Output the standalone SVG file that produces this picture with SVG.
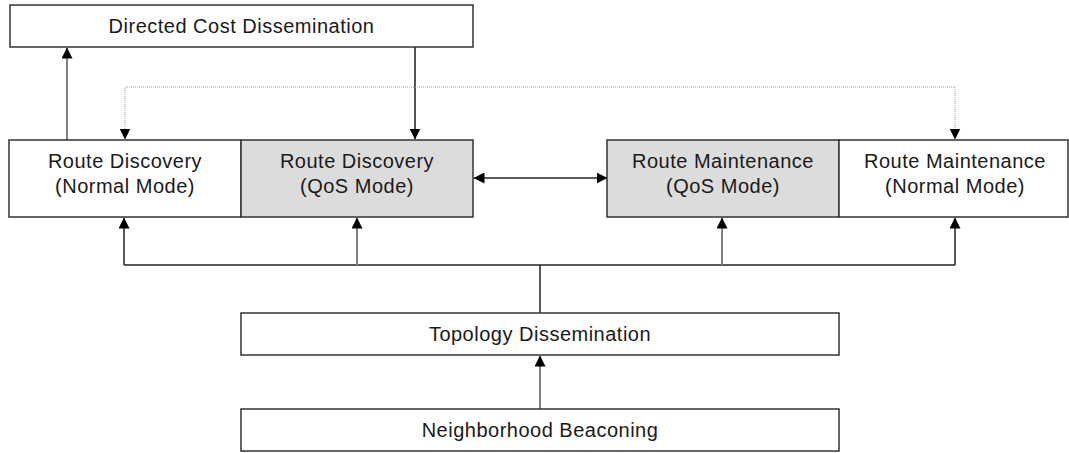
<svg xmlns="http://www.w3.org/2000/svg" width="1069" height="453" viewBox="0 0 1069 453">
  <style>
    .box { fill: #ffffff; stroke: #333333; stroke-width: 1.5; }
    .qos { fill: #dcdcdc; stroke: #333333; stroke-width: 1.5; }
    .lbl { font-family: "Liberation Sans", Arial, sans-serif; font-size: 20px; fill: #1a1a1a; text-anchor: middle; letter-spacing: 0.5px; }
    .dark { fill: none; stroke: #222222; stroke-width: 1.5; }
    .grey { fill: none; stroke: #808080; stroke-width: 2; }
    .dots { fill: none; stroke: #9a9a9a; stroke-width: 1; stroke-dasharray: 1 1; }
  </style>
  <defs>
    <marker id="head" markerUnits="userSpaceOnUse" viewBox="0 0 11 11" refX="10.5" refY="5.5" markerWidth="11" markerHeight="11" orient="auto-start-reverse">
      <path d="M0,0 L11,5.5 L0,11 Z" fill="#000000"/>
    </marker>
  </defs>

  <rect width="1069" height="453" fill="#ffffff"/>

  <!-- connectors -->
  <g id="connectors">
    <!-- normal-mode discovery feeds directed cost dissemination -->
    <path class="grey" d="M67,140 L67,48" marker-end="url(#head)"/>
    <!-- directed cost dissemination feeds QoS discovery -->
    <path d="M415,47 L415,139" fill="none" stroke="#555555" stroke-width="2" marker-end="url(#head)"/>
    <!-- dotted link to both normal-mode blocks -->
    <path class="dots" d="M125,139 L125,87 L955,87 L955,139" marker-start="url(#head)" marker-end="url(#head)"/>
    <!-- QoS discovery <-> QoS maintenance -->
    <path class="dark" d="M474,178 L607,178" marker-start="url(#head)" marker-end="url(#head)"/>
    <!-- topology bus -->
    <path class="dark" d="M124,265 L955,265"/>
    <path class="dark" d="M540,265 L540,313"/>
    <path class="dark" d="M124,265 L124,218" marker-end="url(#head)"/>
    <path class="grey" d="M357,265 L357,218" marker-end="url(#head)"/>
    <path class="grey" d="M722,265 L722,218" marker-end="url(#head)"/>
    <path class="dark" d="M955,265 L955,218" marker-end="url(#head)"/>
    <!-- beaconing feeds topology dissemination -->
    <path class="grey" d="M540,409 L540,356" marker-end="url(#head)"/>
  </g>

  <g id="directed-cost">
    <rect class="box" x="10" y="5" width="463" height="42"/>
    <text class="lbl" x="241.5" y="33">Directed Cost Dissemination</text>
  </g>

  <g id="discovery-normal">
    <rect class="box" x="9" y="140" width="232" height="77"/>
    <text class="lbl" x="125" y="168">Route Discovery</text>
    <text class="lbl" x="125" y="193">(Normal Mode)</text>
  </g>

  <g id="discovery-qos">
    <rect class="qos" x="241" y="140" width="232" height="77"/>
    <text class="lbl" x="357" y="168">Route Discovery</text>
    <text class="lbl" x="357" y="193">(QoS Mode)</text>
  </g>

  <g id="maintenance-qos">
    <rect class="qos" x="607" y="140" width="232" height="77"/>
    <text class="lbl" x="723" y="168">Route Maintenance</text>
    <text class="lbl" x="723" y="193">(QoS Mode)</text>
  </g>

  <g id="maintenance-normal">
    <rect class="box" x="839" y="140" width="229" height="77"/>
    <text class="lbl" x="955" y="168">Route Maintenance</text>
    <text class="lbl" x="955" y="193">(Normal Mode)</text>
  </g>

  <g id="topology">
    <rect class="box" x="241" y="313" width="598" height="42"/>
    <text class="lbl" x="540" y="341">Topology Dissemination</text>
  </g>

  <g id="beaconing">
    <rect class="box" x="241" y="409" width="598" height="42"/>
    <text class="lbl" x="540" y="437">Neighborhood Beaconing</text>
  </g>
</svg>
